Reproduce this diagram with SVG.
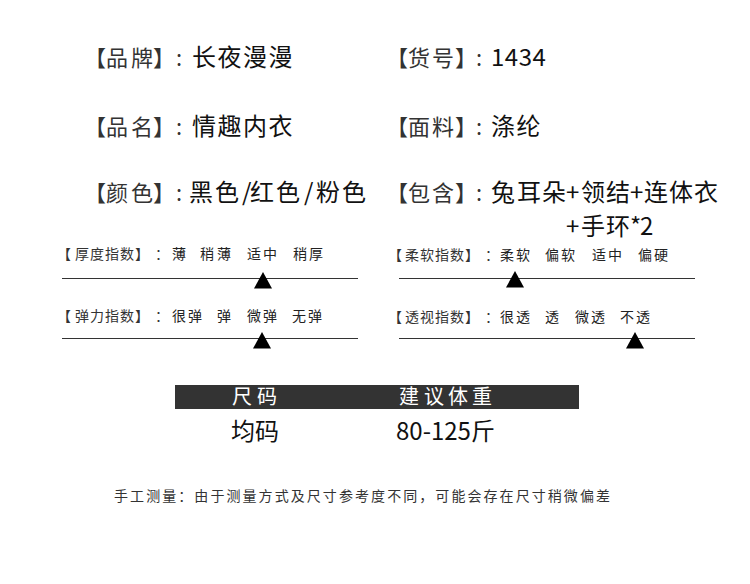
<svg xmlns="http://www.w3.org/2000/svg" width="750" height="584" viewBox="0 0 750 584">
<style>
text{font-family:"Noto Sans CJK SC","Noto Sans",sans-serif;}
.lb{font-size:22px;fill:#333;}
.cl{font-size:22px;fill:#333;}
.val{font-size:24px;fill:#111;}
.sp{letter-spacing:1.5px;}
.sl{font-size:14px;fill:#333;}
.sv{font-size:14px;fill:#222;}
.ln{stroke:#333;stroke-width:1.2;}
.tri{fill:#000;}
.th{font-size:20px;fill:#fff;}
.td{font-size:24px;fill:#111;}
.ft{font-size:14px;fill:#333;}
</style>
<rect width="750" height="584" fill="#fff"/>
<g id="brand">
<text class="lb" x="84 106 131 153" y="66">【品牌】</text>
<text class="cl" x="176" y="66">:</text>
<text class="val sp" x="192" y="66">长夜漫漫</text>
</g>
<g id="item-no">
<text class="lb" x="386 408 432 455" y="66">【货号】</text>
<text class="cl" x="476" y="66">:</text>
<text class="val" x="491" y="66" letter-spacing="0.5">1434</text>
</g>
<g id="name">
<text class="lb" x="84 106 131 153" y="135">【品名】</text>
<text class="cl" x="176" y="135">:</text>
<text class="val sp" x="192" y="135">情趣内衣</text>
</g>
<g id="fabric">
<text class="lb" x="386 408 432 455" y="135">【面料】</text>
<text class="cl" x="476" y="135">:</text>
<text class="val sp" x="491" y="135">涤纶</text>
</g>
<g id="color">
<text class="lb" x="84 106 131 153" y="201">【颜色】</text>
<text class="cl" x="176" y="201">:</text>
<text class="val" x="189 215 242 250 276 304 316 342" y="201">黑色/红色/粉色</text>
</g>
<g id="contents">
<text class="lb" x="386 408 432 455" y="201">【包含】</text>
<text class="cl" x="476" y="201">:</text>
<text class="val" x="491 517 542 566 581 606 630 644 669 694" y="201">兔耳朵+领结+连体衣</text>
<text class="val" x="566 581 606 630 640" y="235">+手环*2</text>
</g>
<g id="thickness">
<text class="sl" x="57 75 90 105 120 135 155" y="259">【厚度指数】：</text>
<text class="sv" x="172 200 217 247 263 293 309" y="259">薄稍薄适中稍厚</text>
</g>
<g id="softness">
<text class="sl" x="388 405 420 435 450 465 485" y="260">【柔软指数】：</text>
<text class="sv" x="500 516 545 561 592 608 638 654" y="260">柔软偏软适中偏硬</text>
</g>
<g id="elasticity">
<text class="sl" x="57 75 90 105 120 135 155" y="321">【弹力指数】：</text>
<text class="sv" x="172 188 217 247 263 292 308" y="321">很弹弹微弹无弹</text>
</g>
<g id="transparency">
<text class="sl" x="388 405 420 435 450 465 485" y="322">【透视指数】：</text>
<text class="sv" x="500 516 545 575 591 620 636" y="322">很透透微透不透</text>
</g>
<g id="connectors">
<line class="ln" x1="62" y1="278.5" x2="358" y2="278.5"/>
<line class="ln" x1="62" y1="338.5" x2="358" y2="338.5"/>
<line class="ln" x1="399" y1="278.5" x2="695" y2="278.5"/>
<line class="ln" x1="399" y1="338.5" x2="695" y2="338.5"/>
<polygon class="tri" points="263,272 254,288.5 272,288.5"/>
<polygon class="tri" points="262,332 253,348.5 271,348.5"/>
<polygon class="tri" points="515,271 506,287.5 524,287.5"/>
<polygon class="tri" points="635,332 626,348.5 644,348.5"/>
</g>
<g id="size-table">
<rect x="175" y="385" width="404" height="24" fill="#333"/>
<text class="th" x="232 257" y="404">尺码</text>
<text class="th" x="399 424 448 472" y="404">建议体重</text>
<text class="td" x="231 255" y="440">均码</text>
<text class="td" x="396" y="440">80-125斤</text>
</g>
<g id="footer">
<text class="ft" x="114" y="501" textLength="496" lengthAdjust="spacing">手工测量：由于测量方式及尺寸参考度不同，可能会存在尺寸稍微偏差</text>
</g>
</svg>
